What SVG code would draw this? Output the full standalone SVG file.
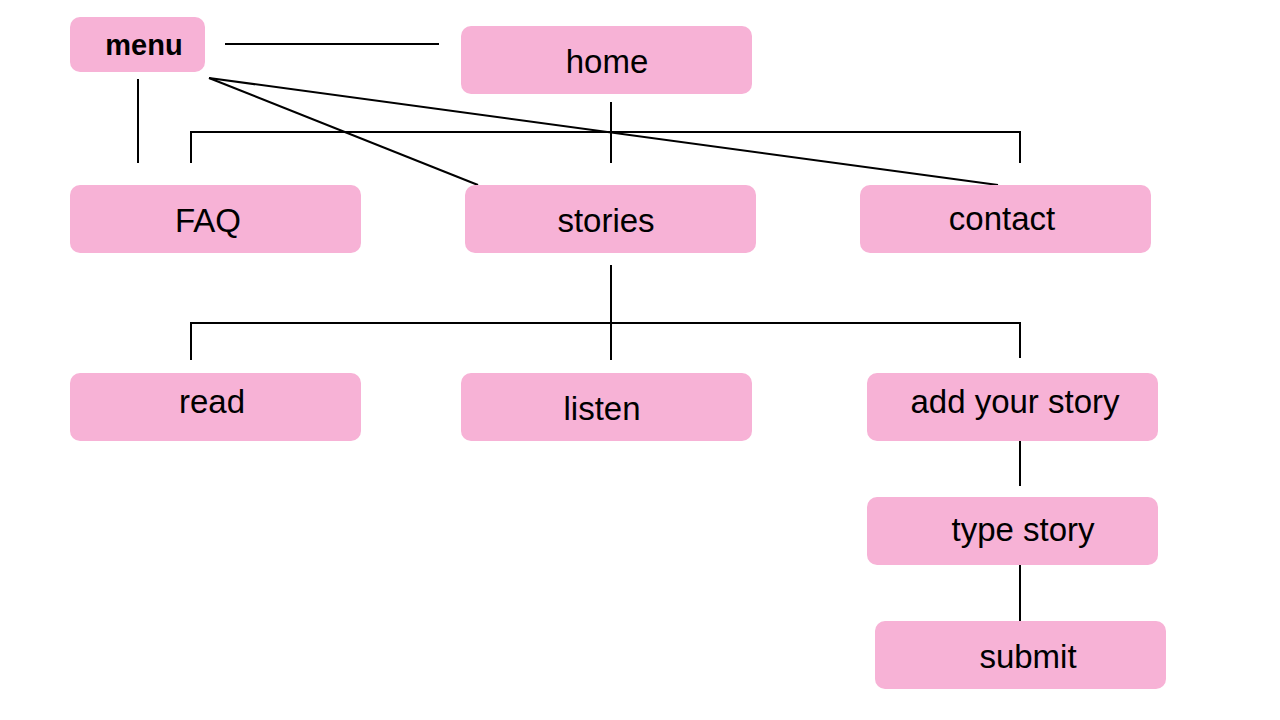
<svg xmlns="http://www.w3.org/2000/svg" width="1280" height="720" viewBox="0 0 1280 720">
<style>
.n{fill:#f7b2d6}
.t{font-family:"Liberation Sans",Arial,sans-serif;font-size:33px;fill:#000;text-anchor:middle}
.c{stroke:#000;stroke-width:2;fill:none}
</style>
<rect width="1280" height="720" fill="#fff"/>
<g id="connectors">
<line class="c" x1="225" y1="44" x2="439" y2="44"/>
<line class="c" x1="138" y1="79" x2="138" y2="163"/>
<polyline class="c" points="191,163 191,132 1020,132 1020,163"/>
<line class="c" x1="611" y1="102" x2="611" y2="163"/>
<line class="c" x1="209" y1="78" x2="478" y2="185"/>
<line class="c" x1="209" y1="78" x2="998" y2="185"/>
<line class="c" x1="611" y1="265" x2="611" y2="360"/>
<polyline class="c" points="191,360 191,323 1020,323 1020,358"/>
<line class="c" x1="1020" y1="441" x2="1020" y2="486"/>
<line class="c" x1="1020" y1="565" x2="1020" y2="621"/>
</g>
<g id="menu"><rect class="n" x="70" y="17" width="135" height="55" rx="10"/><text class="t" x="144" y="55" style="font-size:29px;font-weight:bold">menu</text></g>
<g id="home"><rect class="n" x="461" y="26" width="291" height="68" rx="10"/><text class="t" x="607" y="73">home</text></g>
<g id="faq"><rect class="n" x="70" y="185" width="291" height="68" rx="10"/><text class="t" x="208" y="232">FAQ</text></g>
<g id="stories"><rect class="n" x="465" y="185" width="291" height="68" rx="10"/><text class="t" x="606" y="232">stories</text></g>
<g id="contact"><rect class="n" x="860" y="185" width="291" height="68" rx="10"/><text class="t" x="1002" y="230">contact</text></g>
<g id="read"><rect class="n" x="70" y="373" width="291" height="68" rx="10"/><text class="t" x="212" y="413">read</text></g>
<g id="listen"><rect class="n" x="461" y="373" width="291" height="68" rx="10"/><text class="t" x="602" y="420">listen</text></g>
<g id="add-your-story"><rect class="n" x="867" y="373" width="291" height="68" rx="10"/><text class="t" x="1015" y="413">add your story</text></g>
<g id="type-story"><rect class="n" x="867" y="497" width="291" height="68" rx="10"/><text class="t" x="1023" y="541">type story</text></g>
<g id="submit"><rect class="n" x="875" y="621" width="291" height="68" rx="10"/><text class="t" x="1028" y="668">submit</text></g>
</svg>
